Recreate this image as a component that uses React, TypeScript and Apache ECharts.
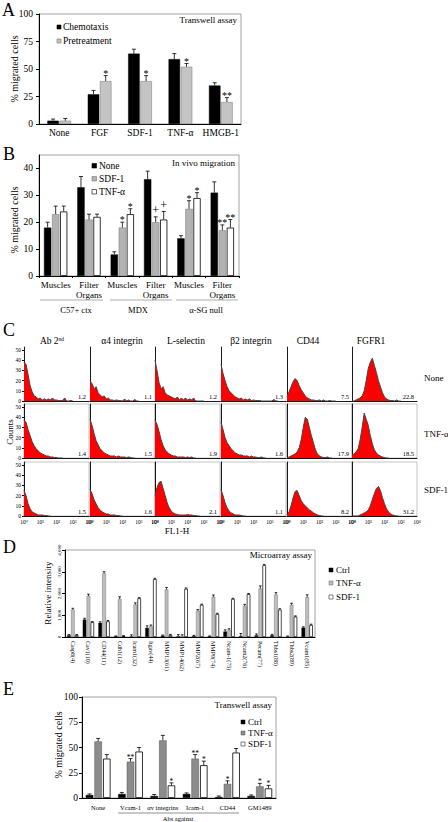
import React, { useEffect, useRef } from 'react';
import * as echarts from 'echarts';

const SERIF = '"Liberation Serif", "DejaVu Serif", "Times New Roman", serif';

// ---------- Panel A ----------
const aCategories = ['None', 'FGF', 'SDF-1', 'TNF-α', 'HMGB-1'];
const aNames = ['Chemotaxis', 'Pretreatment'];
const aChemotaxis = [3, 27, 64, 59, 35];
const aChemotaxisErr = [1.5, 3.5, 4, 5, 2.5];
const aPretreatment = [3, 39, 39, 52, 20];
const aPretreatmentErr = [2, 5, 5, 3, 4];
const aPretreatmentStars = ['', '*', '*', '*', '**'];
const aTicks = [0, 25, 50, 75, 100];

// ---------- Panel B ----------
const bCategories = ['Muscles', 'Filter\nOrgans', 'Muscles', 'Filter\nOrgans', 'Muscles', 'Filter\nOrgans'];
const bGroups = ['C57+ ctx', 'MDX', 'α-SG null'];
const bNames = ['None', 'SDF-1', 'TNF-α'];
const bNone = [18, 33, 8, 36, 14, 31];
const bNoneErr = [2, 4, 1, 3, 1, 4];
const bSdf = [23, 21, 18, 20, 25, 17];
const bSdfErr = [3, 2, 2, 2, 3, 2];
const bSdfStars = ['', '', '*', '+', '*', '**'];
const bTnf = [24, 22, 23, 21, 29, 18];
const bTnfErr = [2, 1, 2, 3, 2, 3];
const bTnfStars = ['', '', '*', '+', '*', '**'];
const bTicks = [0, 10, 20, 30, 40];

// ---------- Panel C (flow cytometry histograms, bins of 1/8 decade from 10^0) ----------
const cColumns = ['Ab 2', 'α4 integrin', 'L-selectin', 'β2 integrin', 'CD44', 'FGFR1'];
const cColumnSup = ['nd', '', '', '', '', ''];
const cRows = ['None', 'TNF-α', 'SDF-1'];
const cMfi = [
  [1.2, 1.1, 1.2, 1.3, 7.5, 22.8],
  [1.4, 1.5, 1.9, 1.6, 17.9, 18.5],
  [1.5, 1.6, 2.1, 1.1, 8.2, 31.2],
];
const cDecadesPerBin = 0.125;
const cTickLabels = ['10⁰', '10¹', '10²', '10³', '10⁴'];
const cCountTicks = [0, 10, 20, 30, 40, 50];
const histNone = [
  [38, 36, 26, 15, 9, 5, 4, 2, 3, 1, 2, 1, 2, 1, 3, 1, 1, 0.5, 0.5, 0.5, 3, 0, 0, 0.5, 0],
  [20, 17, 12, 14, 8, 6, 4, 5, 2, 3, 1, 1, 0.5, 1, 0.5, 0.5, 0, 2, 0, 1, 0, 0, 1.5, 0, 0],
  [40, 30, 18, 12, 14, 8, 6, 5, 4, 3, 2, 4, 1, 3, 1, 3, 1, 2, 1, 3, 0, 0, 0, 0, 0],
  [36, 27, 20, 14, 10, 8, 6, 4, 3, 2, 3, 1, 2, 1, 2, 0.5, 1, 0.5, 0.5, 0.5, 0, 0, 0, 0, 0, 0, 1.5, 0, 0],
  [4, 9, 14, 19, 22, 20, 15, 11, 8, 5, 3, 2, 1, 1, 0.5, 0.5, 1, 0, 1, 0, 0, 0.5, 0, 0, 0],
  [0, 0, 1, 2, 3, 5, 10, 20, 32, 38, 42, 35, 28, 20, 14, 8, 4, 2, 1, 0.5, 0.5, 0, 1, 0, 0],
];
const histTnf = [
  [37, 35, 28, 22, 16, 12, 9, 7, 5, 4, 3, 2, 2, 1, 1, 0.5, 0.5, 0, 0, 0],
  [38, 32, 24, 17, 13, 9, 7, 5, 4, 3, 2, 2, 2, 1, 2, 1, 1, 1, 0.5, 1, 0.5, 0, 0],
  [37, 33, 26, 18, 12, 8, 6, 4, 3, 2, 2, 1, 1, 1, 1, 0.5, 1, 0.5, 1, 0, 0],
  [35, 28, 20, 15, 12, 9, 7, 5, 4, 3, 3, 2, 2, 2, 1, 2, 1, 1, 0.5, 0.5, 1, 0, 0],
  [0, 1, 2, 3, 4, 6, 10, 18, 30, 40, 38, 30, 22, 15, 8, 4, 2, 1, 0.5, 0.5, 1, 0, 0],
  [3, 4, 6, 9, 18, 30, 44, 38, 32, 22, 14, 8, 5, 3, 2, 1, 0.5, 0, 0],
];
const histSdf = [
  [25, 20, 12, 7, 4, 3, 2, 1, 1, 1, 0.5, 0.5, 0, 0],
  [26, 22, 16, 12, 8, 6, 4, 3, 2, 2, 1, 1, 1, 0.5, 0.5, 0, 0],
  [20, 28, 33, 34, 27, 20, 13, 8, 5, 3, 2, 1.5, 1, 1, 1, 1, 1.5, 1, 1, 0.5, 0.5, 0, 0],
  [26, 20, 13, 8, 5, 3, 2, 1, 1, 1, 0.5, 0, 0],
  [1, 4, 10, 18, 24, 25, 20, 15, 12, 10, 8, 6, 5, 3, 2, 1, 0.5, 0, 0],
  [0, 0, 0, 0, 1, 2, 3, 4, 6, 10, 16, 22, 27, 29, 25, 18, 12, 7, 4, 2, 1, 0.5, 0, 0],
];

// ---------- Panel D ----------
const dCategories = ['Casp8(4)', 'Cav1(10)', 'CD44(11)', 'Cdh1(12)', 'Icam1(32)', 'Itgav(44)', 'MMP13(61)', 'MMP14(62)',
  'MMP2(67)', 'MMP9(74)', 'Ncam-1(75)', 'Ncam2(76)', 'Pecam(77)', 'Thbs1(88)', 'Thbs2(89)', 'Vcam1(95)'];
const dNames = ['Ctrl', 'TNF-α', 'SDF-1'];
const dCtrl = [80, 800, 650, 30, 20, 415, 60, 30, 45, 30, 250, 40, 80, 80, 15, 430];
const dCtrlErr = [30, 60, 50, 20, 80, 100, 30, 80, 30, 20, 80, 120, 60, 40, 30, 40];
const dTnf = [1260, 1880, 2920, 1750, 1490, 490, 2180, 60, 1200, 1850, 320, 1420, 2230, 1950, 1480, 1830];
const dTnfErr = [60, 90, 80, 100, 80, 60, 100, 40, 60, 80, 60, 80, 120, 90, 70, 110];
const dSdf = [90, 680, 720, 45, 1780, 2660, 90, 2215, 1480, 1060, 1750, 1970, 3300, 1260, 940, 550];
const dSdfErr = [20, 30, 40, 20, 30, 40, 30, 40, 30, 30, 30, 30, 40, 40, 30, 40];

// ---------- Panel E ----------
const eCategories = ['None', 'Vcam-1', 'αv integrins', 'Icam-1', 'CD44', 'GM1489'];
const eNames = ['Ctrl', 'TNF-α', 'SDF-1'];
const eCtrl = [3, 4, 2, 4, 1, 2];
const eCtrlErr = [1, 1.5, 1.5, 1, 1, 1];
const eTnf = [56, 36, 57, 39, 14, 11.5];
const eTnfErr = [3, 3, 5, 4, 3, 3];
const eTnfStars = ['', '**', '', '**', '*', '*'];
const eSdf = [39, 46, 12.5, 32.5, 45, 9.5];
const eSdfErr = [4, 4, 2.5, 4, 4, 3];
const eSdfStars = ['', '', '*', '*', '', '*'];

// ---------- helpers ----------
function txt(text: string, x: number, y: number, size: number, o: any = {}) {
  const align = o.align || 'left';
  const va = o.va || 'middle';
  return {
    type: 'text', x, y, rotation: o.rot || 0, silent: true, z: 10,
    style: {
      text, fontSize: size, fontFamily: SERIF, fill: o.fill || '#000',
      align, textAlign: align, verticalAlign: va, textVerticalAlign: va,
      rich: o.rich,
    },
  };
}
function rect(x: number, y: number, w: number, h: number, fill: string, stroke = '#000', lw = 0.6) {
  return { type: 'rect', silent: true, z: 10, shape: { x, y, width: w, height: h }, style: { fill, stroke, lineWidth: lw } };
}
function line(x1: number, y1: number, x2: number, y2: number, stroke = '#888', lw = 0.8) {
  return { type: 'line', silent: true, z: 10, shape: { x1, y1, x2, y2 }, style: { stroke, lineWidth: lw } };
}

const option: any = { animation: false, grid: [], xAxis: [], yAxis: [], series: [], graphic: [] };
const G = option.graphic;

function errSeries(gi: number, values: number[], errs: number[], stars: string[] | null, idx: number, n: number,
  bw: number, gap: number, cap: number, starSize: number) {
  return {
    type: 'custom', xAxisIndex: gi, yAxisIndex: gi, z: 5, silent: true,
    data: values.map((v, i) => [i, v, errs[i]]),
    renderItem: (params: any, api: any) => {
      const i = api.value(0), v = api.value(1), e = api.value(2);
      const total = n * bw + (n - 1) * bw * gap;
      const off = -total / 2 + bw / 2 + idx * bw * (1 + gap);
      const base = api.coord([i, v]);
      const top = api.coord([i, v + e]);
      const x = base[0] + off;
      const children: any[] = [
        { type: 'line', shape: { x1: x, y1: base[1], x2: x, y2: top[1] }, style: { stroke: '#000', lineWidth: 0.8 } },
        { type: 'line', shape: { x1: x - cap, y1: top[1], x2: x + cap, y2: top[1] }, style: { stroke: '#000', lineWidth: 0.8 } },
      ];
      const s = stars ? stars[params.dataIndex] : '';
      if (s) {
        children.push({
          type: 'text', x, y: top[1] + (s === '+' ? -0.5 : 2.5),
          style: { text: s, fontSize: s === '+' ? starSize + 2 : starSize, fontFamily: SERIF, fill: '#000',
            align: 'center', textAlign: 'center', verticalAlign: 'bottom', textVerticalAlign: 'bottom' },
        });
      }
      return { type: 'group', children };
    },
  };
}

function barPanel(p: any) {
  const gi = option.grid.length;
  option.grid.push({ left: p.left, top: p.top, width: p.width, height: p.height, show: true, borderColor: '#8a8a8a', borderWidth: 0.8 });
  option.xAxis.push({
    gridIndex: gi, type: 'category', data: p.categories,
    axisLine: { lineStyle: { color: '#000', width: 1 } },
    axisTick: { show: !!p.xTick, length: 2, lineStyle: { color: '#000' } },
    axisLabel: {
      interval: 0, fontSize: p.xFont, fontFamily: SERIF, color: '#000', margin: p.xMargin,
      rotate: p.xRotate || 0, lineHeight: p.xLineHeight, formatter: p.xFormatter,
    },
  });
  option.yAxis.push({
    gridIndex: gi, type: 'value', min: 0, max: p.yMax,
    axisLine: { show: true, lineStyle: { color: '#000', width: 1 } },
    axisTick: { show: true, length: 3, lineStyle: { color: '#000' }, customValues: p.yTicks },
    splitLine: { show: false },
    axisLabel: { fontSize: p.yFont, fontFamily: SERIF, color: '#000', margin: p.yMargin, rotate: p.yRotate || 0, customValues: p.yTicks },
  });
  const n = p.series.length;
  p.series.forEach((s: any, si: number) => {
    option.series.push({
      type: 'bar', name: s.name, xAxisIndex: gi, yAxisIndex: gi, data: s.values, silent: true,
      barWidth: p.bw, barGap: `${p.gap * 100}%`, z: 2,
      itemStyle: { color: s.color, borderColor: s.border, borderWidth: s.borderWidth },
    });
    option.series.push(errSeries(gi, s.values, s.errs, s.stars || null, si, n, p.bw, p.gap, p.cap, p.starSize));
  });
}

// ---------- Panel A ----------
barPanel({
  left: 39, top: 14, width: 202, height: 110, categories: aCategories, yMax: 100, yTicks: aTicks,
  xFont: 9.5, xMargin: 4, yFont: 9.5, yMargin: 6, bw: 11.5, gap: 0.06, cap: 2, starSize: 10,
  series: [
    { name: aNames[0], values: aChemotaxis, errs: aChemotaxisErr, color: '#000', border: '#000', borderWidth: 0.5 },
    { name: aNames[1], values: aPretreatment, errs: aPretreatmentErr, stars: aPretreatmentStars, color: '#c4c4c4', border: '#777', borderWidth: 0.5 },
  ],
});
G.push(txt('A', 2, 1, 18, { va: 'top' }));
G.push(txt('% migrated cells', 14, 69, 10, { align: 'center', rot: Math.PI / 2 }));
G.push(txt('Transwell assay', 237, 20, 9, { align: 'right' }));
G.push(rect(57, 25, 4, 4, '#000'));
G.push(txt(aNames[0], 63, 27, 9.5));
G.push(rect(57, 39, 4, 4, '#c4c4c4', '#777'));
G.push(txt(aNames[1], 63, 41, 9.5));

// ---------- Panel B ----------
barPanel({
  left: 39, top: 155, width: 200, height: 121, categories: bCategories.map((c, i) => `${i}|${c}`),
  xFormatter: (v: string) => v.split('|')[1], xLineHeight: 10, xTick: true,
  yMax: 45, yTicks: bTicks, xFont: 9, xMargin: 4, yFont: 9.5, yMargin: 6, bw: 7.3, gap: 0.1, cap: 2, starSize: 10,
  series: [
    { name: bNames[0], values: bNone, errs: bNoneErr, color: '#000', border: '#000', borderWidth: 0.5 },
    { name: bNames[1], values: bSdf, errs: bSdfErr, stars: bSdfStars, color: '#b3b3b3', border: '#777', borderWidth: 0.5 },
    { name: bNames[2], values: bTnf, errs: bTnfErr, stars: bTnfStars, color: '#fff', border: '#000', borderWidth: 0.8 },
  ],
});
G.push(txt('B', 3, 145, 18, { va: 'top' }));
G.push(txt('% migrated cells', 14, 220, 10, { align: 'center', rot: Math.PI / 2 }));
G.push(txt('In vivo migration', 235, 163, 9, { align: 'right' }));
const bLegendY = [166, 179, 192];
const bLegendFill = ['#000', '#b3b3b3', '#fff'];
bNames.forEach((nm, i) => {
  G.push(rect(92, bLegendY[i] - 2.5, 4.5, 4.5, bLegendFill[i], i === 1 ? '#777' : '#000'));
  G.push(txt(nm, 99, bLegendY[i], 9.5));
});
const bGroupSpan = [[40, 103], [110, 172], [176, 238]];
const bGroupX = [76, 138, 206];
bGroups.forEach((g, i) => {
  G.push(line(bGroupSpan[i][0], 300, bGroupSpan[i][1], 300, '#999', 0.8));
  G.push(txt(g, bGroupX[i], 310, 8.5, { align: 'center' }));
});

// ---------- Panel C ----------
const cLefts = [24, 90, 155, 221, 287, 352];
const cWidth = 65;
const cBottoms = [401, 458, 516];
const cHeight = 54;
const cTitleX = [52, 122, 186, 251, 308, 371];
const allHist = [histNone, histTnf, histSdf];
allHist.forEach((rowHists, r) => {
  rowHists.forEach((h, c) => {
    const gi = option.grid.length;
    option.grid.push({
      left: cLefts[c], top: cBottoms[r] - cHeight, width: cWidth, height: cHeight,
      show: r > 0, borderColor: '#a0a0a0', borderWidth: 0.6,
    });
    option.xAxis.push({
      gridIndex: gi, type: 'value', min: 0, max: 4, interval: 1,
      axisLine: { lineStyle: { color: '#000', width: 0.9 } }, axisTick: { show: false }, splitLine: { show: false },
      axisLabel: {
        show: r === 2, fontSize: 5.5, fontFamily: SERIF, color: '#000', margin: 3,
        formatter: (v: number) => cTickLabels[Math.round(v)],
      },
    });
    option.yAxis.push({
      gridIndex: gi, type: 'value', min: 0, max: 53,
      axisLine: { show: true, lineStyle: { color: '#000', width: 0.9 } },
      axisTick: { show: c === 0, length: 2, customValues: cCountTicks, lineStyle: { color: '#000' } },
      axisLabel: { show: c === 0, customValues: cCountTicks, fontSize: 5.5, fontFamily: SERIF, color: '#000', margin: 3 },
      splitLine: { show: false },
    });
    option.series.push({
      type: 'line', xAxisIndex: gi, yAxisIndex: gi, silent: true, symbol: 'none',
      data: h.map((v, i) => [i * cDecadesPerBin, v]),
      lineStyle: { color: '#444', width: 1 },
      areaStyle: { color: '#ff0000', opacity: 1 },
    });
    G.push(txt(cMfi[r][c].toFixed(1), cLefts[c] + cWidth - 3, cBottoms[r] - 1, 6.5, { align: 'right', va: 'bottom' }));
  });
});
cColumns.forEach((t, c) => {
  if (cColumnSup[c]) {
    G.push(txt(`{a|${t}}{s|${cColumnSup[c]}}`, cTitleX[c], 341, 9.5, {
      align: 'center',
      rich: { a: { fontSize: 9.5, fontFamily: SERIF, fill: '#000' }, s: { fontSize: 5.5, fontFamily: SERIF, fill: '#000', verticalAlign: 'top' } },
    }));
  } else {
    G.push(txt(t, cTitleX[c], 341, 9.5, { align: 'center' }));
  }
});
const cRowY = [378, 434, 490];
cRows.forEach((t, r) => G.push(txt(t, 424, cRowY[r], 9)));
G.push(txt('C', 3, 321, 18, { va: 'top' }));
G.push(txt('Counts', 10, 432, 9, { align: 'center', rot: Math.PI / 2 }));
G.push(txt('FL1-H', 177, 531, 9, { align: 'center' }));

// ---------- Panel D ----------
barPanel({
  left: 65, top: 550, width: 250, height: 87, categories: dCategories, yMax: 4000, yTicks: [0, 1000, 2000, 3000, 4000],
  xFont: 6, xMargin: 4, xRotate: -90, yFont: 5, yMargin: 3, yRotate: 90, bw: 3.6, gap: 0.08, cap: 1.3, starSize: 6,
  series: [
    { name: dNames[0], values: dCtrl, errs: dCtrlErr, color: '#000', border: '#000', borderWidth: 0.3 },
    { name: dNames[1], values: dTnf, errs: dTnfErr, color: '#bdbdbd', border: '#666', borderWidth: 0.4 },
    { name: dNames[2], values: dSdf, errs: dSdfErr, color: '#fff', border: '#000', borderWidth: 0.7 },
  ],
});
G.push(txt('D', 3, 538, 18, { va: 'top' }));
G.push(txt('Relative intensity', 48, 593, 9, { align: 'center', rot: Math.PI / 2 }));
G.push(txt('Microarray assay', 312, 555, 9, { align: 'right' }));
const dLegendY = [570, 583, 597];
const dLegendFill = ['#000', '#bdbdbd', '#fff'];
dNames.forEach((nm, i) => {
  G.push(rect(329, dLegendY[i] - 2, 4, 4, dLegendFill[i], i === 1 ? '#666' : '#000', 0.5));
  G.push(txt(nm, 336, dLegendY[i], 9));
});

// ---------- Panel E ----------
barPanel({
  left: 82, top: 697, width: 194, height: 101, categories: eCategories, yMax: 100, yTicks: [0, 25, 50, 75, 100],
  xFont: 6.5, xMargin: 6, yFont: 9.5, yMargin: 4, bw: 7.5, gap: 0.15, cap: 2, starSize: 7.5,
  series: [
    { name: eNames[0], values: eCtrl, errs: eCtrlErr, color: '#000', border: '#000', borderWidth: 0.5 },
    { name: eNames[1], values: eTnf, errs: eTnfErr, stars: eTnfStars, color: '#8c8c8c', border: '#555', borderWidth: 0.5 },
    { name: eNames[2], values: eSdf, errs: eSdfErr, stars: eSdfStars, color: '#fff', border: '#000', borderWidth: 0.8 },
  ],
});
G.push(txt('E', 3, 680, 18, { va: 'top' }));
G.push(txt('% migrated cells', 58, 745, 10, { align: 'center', rot: Math.PI / 2 }));
G.push(txt('Transwell assay', 272, 705, 9, { align: 'right' }));
const eLegendY = [722, 733, 744];
const eLegendFill = ['#000', '#8c8c8c', '#fff'];
eNames.forEach((nm, i) => {
  G.push(rect(241, eLegendY[i] - 2, 4, 4, eLegendFill[i], i === 1 ? '#555' : '#000', 0.5));
  G.push(txt(nm, 248, eLegendY[i], 9));
});
G.push(line(118, 813, 239, 813, '#777', 0.8));
G.push(txt('Abs against', 178, 818.5, 6.5, { align: 'center' }));

export default function App() {
  const ref = useRef<HTMLDivElement>(null);
  useEffect(() => {
    if (!ref.current) return;
    const chart = echarts.init(ref.current, null, { renderer: 'svg' });
    chart.setOption(option);
    return () => chart.dispose();
  }, []);
  return (
    <div
      ref={ref}
      style={{ position: 'fixed', left: 0, top: 0, width: 448, height: 822, background: '#fff' }}
    />
  );
}
